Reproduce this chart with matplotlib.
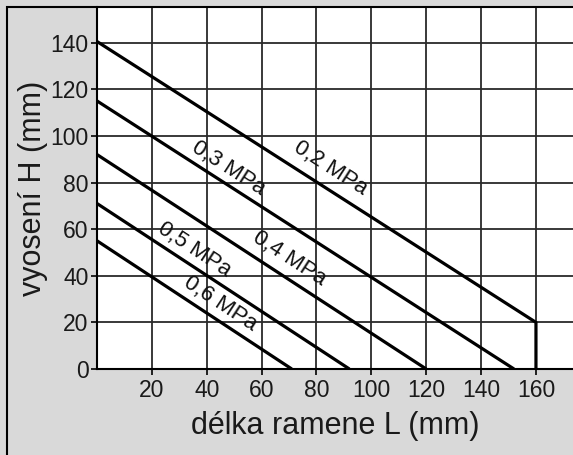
import math
import matplotlib
matplotlib.use("Agg")
import matplotlib.pyplot as plt
from matplotlib.patches import Rectangle

plt.rcParams['font.family'] = ['Liberation Sans', 'DejaVu Sans']

# pressure curves: arm length L (mm) vs offset H (mm)
L_02 = [0, 160, 160]
H_02 = [140.5, 20, 0]
L_03 = [0, 152]
H_03 = [115, 0]
L_04 = [0, 120]
H_04 = [92, 0]
L_05 = [0, 92]
H_05 = [71, 0]
L_06 = [0, 71]
H_06 = [55, 0]

curves = [(L_02, H_02), (L_03, H_03), (L_04, H_04), (L_05, H_05), (L_06, H_06)]

# label text and its centre (L, H)
labels = ["0,2 MPa", "0,3 MPa", "0,4 MPa", "0,5 MPa", "0,6 MPa"]
label_L = [85, 48, 70, 35.5, 45]
label_H = [86, 86, 47.5, 51, 28]

x_ticks = [20, 40, 60, 80, 100, 120, 140, 160]
y_ticks = [0, 20, 40, 60, 80, 100, 120, 140]

fig = plt.figure(figsize=(5.73, 4.55), dpi=100)
fig.patch.set_facecolor('#d9d9d9')

# black frame around the panel (cut off on right and bottom)
fig.patches.append(Rectangle((7 / 573, -0.1), 1.2, 1 - 7 / 455 + 0.1,
                             transform=fig.transFigure, fill=False,
                             edgecolor='black', linewidth=1.5))

ax = fig.add_axes([97 / 573, 1 - 369 / 455, 1 - 97 / 573, (369 - 7) / 455])
ax.set_facecolor('white')
ax.set_xlim(0, 173.5)
ax.set_ylim(0, 155.3)

ax.set_xticks(x_ticks)
ax.set_yticks(y_ticks)
ax.grid(True, color='#2a2a2a', linewidth=1.3)
ax.set_axisbelow(True)

for L, H in curves:
    ax.plot(L, H, color='black', linewidth=2.3, solid_capstyle='butt')

# rotate labels along curves (in screen space)
fig.canvas.draw()
for (L, H), text, lx, ly in zip(curves, labels, label_L, label_H):
    p1 = ax.transData.transform((L[0], H[0]))
    p2 = ax.transData.transform((L[1], H[1]))
    ang = math.degrees(math.atan2(p2[1] - p1[1], p2[0] - p1[0]))
    ax.text(lx, ly, text, rotation=ang, rotation_mode='anchor',
            ha='center', va='center', fontsize=16, color='#111111')

for s in ['left', 'bottom']:
    ax.spines[s].set_color('black')
    ax.spines[s].set_linewidth(1.5)
ax.spines['right'].set_visible(False)
ax.spines['top'].set_visible(False)

ax.tick_params(direction='out', length=4, width=1.2, labelsize=16.5,
               colors='black', labelcolor='#1a1a1a', pad=2)
ax.tick_params(axis='x', pad=3)
ax.set_xlabel("délka ramene L (mm)", fontsize=22, color='#1a1a1a', labelpad=7)
ax.set_ylabel("vyosení H (mm)", fontsize=22, color='#1a1a1a', labelpad=2)

fig.savefig("out.png", dpi=100, facecolor=fig.get_facecolor())
